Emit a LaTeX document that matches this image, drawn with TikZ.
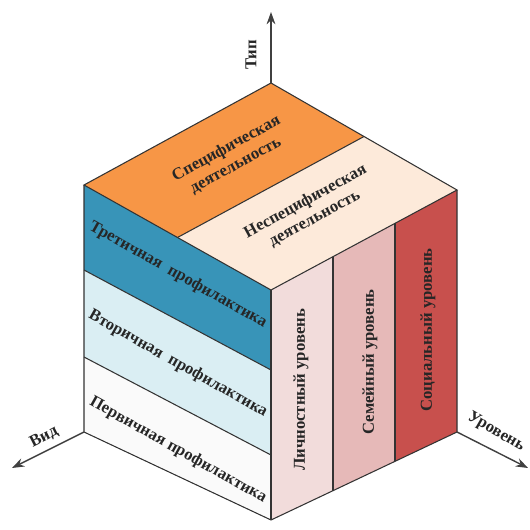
\documentclass[tikz,border=0pt]{standalone}
\usepackage{fontspec}
\setmainfont{Liberation Serif}
\usetikzlibrary{calc,arrows.meta}

\definecolor{specOrange}{RGB}{247,150,70}
\definecolor{nonspecPeach}{RGB}{253,234,218}
\definecolor{tertBlue}{RGB}{56,148,184}
\definecolor{secBlue}{RGB}{218,238,243}
\definecolor{primWhite}{RGB}{250,250,250}
\definecolor{persPink}{RGB}{242,220,219}
\definecolor{famPink}{RGB}{230,185,184}
\definecolor{socRed}{RGB}{200,80,77}

\begin{document}
\begin{tikzpicture}[x=0.02cm,y=-0.02cm]
\tikzstyle{face}=[draw=black!80, line width=0.6pt]
\tikzstyle{axis}=[draw=black!75, line width=0.8pt, -{Stealth[length=7pt,width=5pt]}]
\tikzstyle{lbl}=[font=\bfseries\fontsize{9.5}{11}\selectfont, text=black!85, align=center, inner sep=0pt]
\useasboundingbox (0,0) rectangle (529,530);
% cube corners
\coordinate (back) at (271,83);
\coordinate (lt) at (84,185);
\coordinate (ft) at (271,290);
\coordinate (rt) at (457,190);
\coordinate (lb) at (84,432);
\coordinate (fb) at (271,520);
\coordinate (rb) at (457,432);
% split points
\coordinate (lt1) at (84,270);
\coordinate (lt2) at (84,357);
\coordinate (ft1) at (271,370);
\coordinate (ft2) at (271,455);
\coordinate (mid1) at ($(lt)!0.5!(ft)$);
\coordinate (mid2) at ($(back)!0.5!(rt)$);
\coordinate (rt1) at ($(ft)!1/3!(rt)$);
\coordinate (rt2) at ($(ft)!2/3!(rt)$);
\coordinate (rb1) at ($(fb)!1/3!(rb)$);
\coordinate (rb2) at ($(fb)!2/3!(rb)$);
% axis tips
\coordinate (typeTip) at (271,12);
\coordinate (viewTip) at (12,468);
\coordinate (levelTip) at (528,468);

% top face
\fill [specOrange] (back) -- (lt) -- (mid1) -- (mid2) -- cycle;
\fill [nonspecPeach] (mid1) -- (ft) -- (rt) -- (mid2) -- cycle;
\draw [face] (mid1) -- (mid2);
% left face
\fill [tertBlue] (lt) -- (ft) -- (ft1) -- (lt1) -- cycle;
\fill [secBlue] (lt1) -- (ft1) -- (ft2) -- (lt2) -- cycle;
\fill [primWhite] (lt2) -- (ft2) -- (fb) -- (lb) -- cycle;
\draw [face] (lt1) -- (ft1);
\draw [face] (lt2) -- (ft2);
% right face
\fill [persPink] (ft) -- (rt1) -- (rb1) -- (fb) -- cycle;
\fill [famPink] (rt1) -- (rt2) -- (rb2) -- (rb1) -- cycle;
\fill [socRed] (rt2) -- (rt) -- (rb) -- (rb2) -- cycle;
\draw [face] (rt1) -- (rb1);
\draw [face] (rt2) -- (rb2);
% edges
\draw [face] (back) -- (lt) -- (ft) -- (rt) -- cycle;
\draw [face] (lt) -- (lb) -- (fb) -- (rb) -- (rt);
\draw [face] (ft) -- (fb);

% axes
\draw [axis] (back) -- (typeTip);
\draw [axis] (lb) -- (viewTip);
\draw [axis] (rb) -- (levelTip);
\node [lbl, rotate=90] (lblType) at (251,55) {Тип};
\node [lbl, rotate=27] (lblView) at (44,437) {Вид};
\node [lbl, rotate=-30] (lblLevel) at (496,432) {Уровень};

% labels
\node [lbl, rotate=28.6] (spec) at (231,157) {Специфическая\\деятельность};
\node [lbl, rotate=28.6] (nonspec) at (310,210) {Неспецифическая\\деятельность};
\node [lbl, rotate=-29.3] (tert) at (178,275) {Третичная\ \ профилактика};
\node [lbl, rotate=-29.3] (sec) at (178,364) {Вторичная\ \ профилактика};
\node [lbl, rotate=-29.3] (prim) at (178,450) {Первичная профилактика};
\node [lbl, rotate=90] (pers) at (301,390) {Личностный уровень};
\node [lbl, rotate=90] (fam) at (370,362) {Семейный уровень};
\node [lbl, rotate=90] (soc) at (428,330) {Социальный уровень};
\end{tikzpicture}
\end{document}
